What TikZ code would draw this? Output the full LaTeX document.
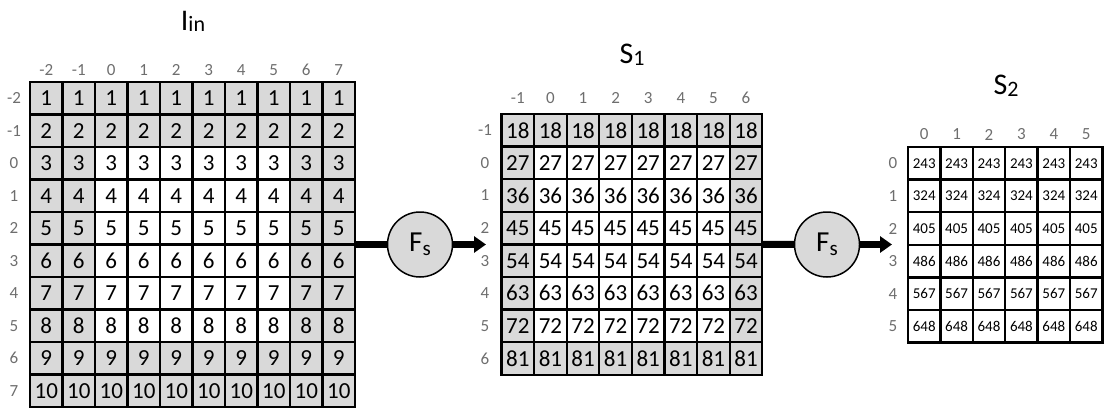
\documentclass[tikz,border=0pt]{standalone}
\usepackage{fontspec}
\setmainfont{Carlito}
\usetikzlibrary{arrows.meta}
\definecolor{cellgray}{HTML}{D9D9D9}
\definecolor{idxgray}{HTML}{6E6E6E}
\begin{document}
\begin{tikzpicture}[x=1pt,y=-1pt,
  cell/.style={draw, line width=2.3pt, minimum width=32.5pt, minimum height=32.5pt, inner sep=0pt, outer sep=0pt, font=\fontsize{23}{23}\selectfont},
  smallcell/.style={cell, minimum width=32.4pt, minimum height=32.6pt, font=\fontsize{15}{15}\selectfont},
  idx/.style={text=idxgray, inner sep=0pt, font=\fontsize{17}{17}\selectfont},
  title/.style={anchor=base, inner sep=0pt, font=\fontsize{30}{30}\selectfont},
  op/.style={circle, draw, line width=1.5pt, fill=cellgray, minimum size=65pt, inner sep=0pt, font=\fontsize{29}{29}\selectfont},
  flow/.style={line width=7pt}]
\useasboundingbox (0,0) rectangle (1107,409);
% input image with border
\node[title] (tin) at (193,31) {I\raisebox{-1pt}{\fontsize{22}{22}\selectfont in}};
\foreach \c in {-2,...,7}
  \node[idx] (in-col\c) at ({30+(\c+2.5)*32.5},70) {\c};
\foreach \r in {-2,...,7}{
  \node[idx] (in-row\r) at (14,{82+(\r+2.5)*32.5}) {\r};
  \foreach \c in {-2,...,7}{
    \pgfmathtruncatemacro{\edge}{(\r<0)||(\r>5)||(\c<0)||(\c>5)}
    \pgfmathtruncatemacro{\val}{\r+3}
    \ifnum\edge=1 \def\cfill{cellgray}\else\def\cfill{white}\fi
    \node[cell, fill=\cfill] (in-\r-\c) at ({30+(\c+2.5)*32.5},{82+(\r+2.5)*32.5}) {\val};
  }
}
% first step
\node[title] (ts1) at (632,64) {S\raisebox{-2pt}{\fontsize{22}{22}\selectfont 1}};
\foreach \c in {-1,...,6}
  \node[idx] (s1-col\c) at ({501.5+(\c+1.5)*32.6},98) {\c};
\foreach \r in {-1,...,6}{
  \node[idx] (s1-row\r) at (485,{114+(\r+1.5)*32.6}) {\r};
  \foreach \c in {-1,...,6}{
    \pgfmathtruncatemacro{\edge}{(\r<0)||(\r>5)||(\c<0)||(\c>5)}
    \pgfmathtruncatemacro{\val}{9*(\r+3)}
    \ifnum\edge=1 \def\cfill{cellgray}\else\def\cfill{white}\fi
    \node[cell, minimum width=32.6pt, minimum height=32.6pt, fill=\cfill] (s1-\r-\c) at ({501.5+(\c+1.5)*32.6},{114+(\r+1.5)*32.6}) {\val};
  }
}
% second step
\node[title] (ts2) at (1006,95) {S\raisebox{-2pt}{\fontsize{22}{22}\selectfont 2}};
\foreach \c in {0,...,5}
  \node[idx] (s2-col\c) at ({908+(\c+0.5)*32.4},134.5) {\c};
\foreach \r in {0,...,5}{
  \node[idx] (s2-row\r) at (893,{147+(\r+0.5)*32.6}) {\r};
  \foreach \c in {0,...,5}{
    \pgfmathtruncatemacro{\val}{81*(\r+3)}
    \node[smallcell, fill=white] (s2-\r-\c) at ({908+(\c+0.5)*32.4},{147+(\r+0.5)*32.6}) {\val};
  }
}
% operators
\node[op] (fs1) at (420,244.5) {F\raisebox{-4pt}{\fontsize{21}{21}\selectfont s}};
\node[op] (fs2) at (827,244.5) {F\raisebox{-4pt}{\fontsize{21}{21}\selectfont s}};
\coordinate (tip1) at (486,244.5);
\coordinate (tip2) at (892,244.5);
\draw[flow] (in-2-7.south east) -- (fs1);
\draw[flow,-{Triangle[length=12pt,width=16pt]}] (fs1) -- (tip1);
\draw[flow] (s1-2-6.south east) -- (fs2);
\draw[flow,-{Triangle[length=12pt,width=16pt]}] (fs2) -- (tip2);
\end{tikzpicture}
\end{document}
